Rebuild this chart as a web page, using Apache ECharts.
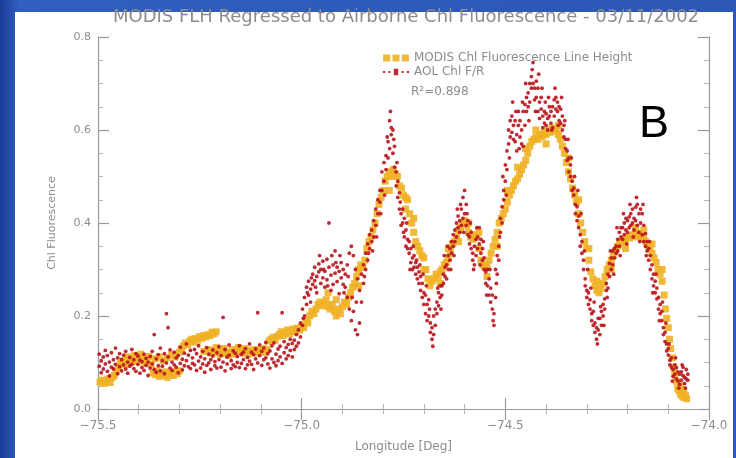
<!DOCTYPE html>
<html>
<head>
<meta charset="utf-8">
<script src="https://cdn.jsdelivr.net/npm/echarts@6/dist/echarts.min.js"></script>
<style>
  html, body { margin: 0; padding: 0; }
  #chart { width: 736px; height: 458px; }
</style>
</head>
<body>
<div id="chart"></div>
<script>
// Longitude range and tick layout
const lonTicks = [-75.5, -75.0, -74.5, -74.0];
const chlTicks = [0.0, 0.2, 0.4, 0.6, 0.8];

// MODIS fluorescence line height, regressed to Chl fluorescence: [longitude, value]
const modisFlh = [
  [-75.495,0.058],[-75.490,0.062],[-75.485,0.055],[-75.480,0.060],[-75.475,0.065],[-75.470,0.057],
  [-75.465,0.068],[-75.460,0.072],[-75.455,0.080],[-75.450,0.090],[-75.445,0.098],[-75.440,0.104],
  [-75.435,0.095],[-75.430,0.108],[-75.425,0.112],[-75.420,0.100],[-75.415,0.106],[-75.410,0.115],
  [-75.405,0.102],[-75.400,0.110],[-75.395,0.118],[-75.390,0.104],[-75.385,0.099],[-75.380,0.108],
  [-75.375,0.113],[-75.370,0.096],[-75.365,0.078],[-75.360,0.074],[-75.355,0.082],[-75.350,0.070],
  [-75.345,0.076],[-75.340,0.072],[-75.335,0.080],[-75.330,0.068],[-75.325,0.075],[-75.320,0.078],
  [-75.315,0.072],[-75.310,0.080],[-75.305,0.076],[-75.300,0.082],
  [-75.360,0.108],[-75.350,0.112],[-75.340,0.104],[-75.330,0.110],[-75.320,0.116],[-75.310,0.112],
  [-75.300,0.122],[-75.295,0.130],[-75.290,0.136],[-75.285,0.142],[-75.280,0.138],[-75.275,0.146],
  [-75.270,0.150],[-75.265,0.144],[-75.260,0.152],[-75.255,0.148],[-75.250,0.156],[-75.245,0.152],
  [-75.240,0.158],[-75.235,0.155],[-75.230,0.160],[-75.225,0.158],[-75.220,0.165],[-75.215,0.162],
  [-75.210,0.166],[-75.240,0.124],[-75.230,0.128],[-75.220,0.120],[-75.215,0.126],[-75.210,0.132],
  [-75.205,0.122],[-75.200,0.118],[-75.195,0.125],[-75.190,0.130],[-75.185,0.120],[-75.180,0.115],
  [-75.175,0.122],[-75.170,0.128],[-75.165,0.118],[-75.160,0.124],[-75.155,0.132],[-75.150,0.126],
  [-75.145,0.120],[-75.140,0.130],[-75.135,0.124],[-75.130,0.118],[-75.125,0.126],[-75.120,0.122],
  [-75.115,0.128],[-75.110,0.120],[-75.105,0.126],[-75.100,0.124],[-75.095,0.130],[-75.090,0.122],
  [-75.085,0.128],[-75.080,0.146],[-75.075,0.150],[-75.070,0.154],[-75.065,0.148],[-75.060,0.156],
  [-75.055,0.160],[-75.050,0.166],[-75.045,0.158],[-75.040,0.165],[-75.035,0.170],[-75.030,0.162],
  [-75.025,0.168],[-75.020,0.172],[-75.015,0.166],[-75.010,0.174],[-75.005,0.170],[-75.000,0.176],
  [-74.995,0.175],[-74.990,0.190],[-74.985,0.185],[-74.980,0.200],[-74.975,0.210],[-74.970,0.205],
  [-74.965,0.215],[-74.960,0.225],[-74.955,0.230],[-74.950,0.222],[-74.945,0.228],[-74.940,0.235],
  [-74.935,0.220],[-74.930,0.215],[-74.925,0.225],[-74.920,0.210],[-74.915,0.200],[-74.910,0.215],
  [-74.905,0.205],[-74.900,0.220],[-74.895,0.230],[-74.890,0.225],[-74.885,0.240],[-74.880,0.250],
  [-74.875,0.262],[-74.870,0.270],[-74.865,0.285],[-74.860,0.300],[-74.855,0.310],[-74.850,0.305],
  [-74.845,0.320],[-74.840,0.345],[-74.835,0.360],[-74.830,0.370],[-74.825,0.385],[-74.820,0.400],
  [-74.815,0.420],[-74.810,0.440],[-74.805,0.455],[-74.800,0.470],[-74.795,0.490],[-74.790,0.500],
  [-74.785,0.510],[-74.780,0.500],[-74.775,0.515],[-74.770,0.505],[-74.765,0.500],[-74.760,0.480],
  [-74.755,0.475],[-74.750,0.460],[-74.745,0.455],[-74.740,0.450],[-74.735,0.420],[-74.730,0.400],
  [-74.725,0.380],[-74.720,0.360],[-74.715,0.350],[-74.710,0.340],[-74.705,0.330],[-74.700,0.325],
  [-74.695,0.300],[-74.690,0.280],[-74.685,0.265],[-74.680,0.275],[-74.675,0.280],[-74.670,0.290],
  [-74.665,0.285],[-74.660,0.295],[-74.655,0.300],[-74.650,0.310],[-74.645,0.315],[-74.640,0.325],
  [-74.635,0.340],[-74.630,0.355],[-74.625,0.360],[-74.620,0.370],[-74.615,0.385],[-74.610,0.390],
  [-74.605,0.400],[-74.600,0.405],[-74.595,0.395],[-74.590,0.380],[-74.585,0.370],[-74.580,0.365],
  [-74.575,0.375],[-74.570,0.370],[-74.565,0.345],[-74.560,0.320],[-74.555,0.310],[-74.550,0.305],
  [-74.545,0.310],[-74.540,0.320],[-74.535,0.335],[-74.530,0.350],[-74.525,0.365],[-74.520,0.380],
  [-74.515,0.400],[-74.510,0.410],[-74.505,0.420],[-74.500,0.430],[-74.495,0.445],[-74.490,0.460],
  [-74.485,0.470],[-74.480,0.480],[-74.475,0.490],[-74.470,0.495],[-74.465,0.505],[-74.460,0.515],
  [-74.455,0.525],[-74.450,0.535],[-74.445,0.550],[-74.440,0.565],[-74.435,0.575],[-74.430,0.580],
  [-74.425,0.585],[-74.420,0.580],[-74.415,0.590],[-74.410,0.585],[-74.405,0.595],[-74.400,0.590],
  [-74.395,0.600],[-74.390,0.595],[-74.385,0.605],[-74.380,0.600],[-74.375,0.598],[-74.370,0.590],
  [-74.365,0.580],[-74.360,0.565],[-74.355,0.550],[-74.350,0.530],[-74.345,0.510],[-74.340,0.495],
  [-74.335,0.475],[-74.330,0.460],[-74.325,0.445],[-74.320,0.420],[-74.315,0.400],[-74.310,0.380],
  [-74.305,0.360],[-74.300,0.345],[-74.295,0.320],[-74.290,0.295],[-74.285,0.280],[-74.280,0.265],
  [-74.275,0.255],[-74.270,0.250],[-74.265,0.260],[-74.260,0.270],[-74.255,0.285],[-74.250,0.300],
  [-74.245,0.310],[-74.240,0.320],[-74.235,0.330],[-74.230,0.340],[-74.225,0.350],[-74.220,0.355],
  [-74.215,0.360],[-74.210,0.362],[-74.205,0.365],[-74.200,0.370],[-74.195,0.368],[-74.190,0.372],
  [-74.185,0.375],[-74.180,0.370],[-74.175,0.378],[-74.170,0.372],[-74.165,0.368],[-74.160,0.365],
  [-74.155,0.360],[-74.150,0.352],[-74.145,0.345],[-74.140,0.335],[-74.135,0.325],[-74.130,0.315],
  [-74.125,0.300],[-74.120,0.290],[-74.115,0.275],[-74.110,0.245],[-74.107,0.215],[-74.104,0.195],
  [-74.100,0.175],[-74.097,0.150],[-74.094,0.130],[-74.090,0.110],[-74.087,0.090],[-74.084,0.075],
  [-74.080,0.060],[-74.077,0.045],[-74.074,0.040],[-74.070,0.032],[-74.066,0.028],[-74.062,0.025],
  [-74.058,0.030],[-74.055,0.022],
  // off-track pixels
  [-74.935,0.250],[-74.915,0.235],[-74.860,0.265],[-74.785,0.470],[-74.745,0.430],[-74.725,0.410],
  [-74.700,0.300],[-74.660,0.270],[-74.640,0.345],[-74.615,0.360],[-74.590,0.400],[-74.565,0.380],
  [-74.545,0.285],[-74.520,0.350],[-74.495,0.470],[-74.470,0.520],[-74.450,0.560],[-74.425,0.600],
  [-74.400,0.570],[-74.370,0.610],[-74.345,0.540],[-74.320,0.450],[-74.295,0.345],[-74.275,0.275],
  [-74.240,0.300],[-74.205,0.345],[-74.180,0.390],[-74.160,0.385],[-74.140,0.355],[-74.115,0.300],
  [-74.070,0.050],[-74.062,0.040]
];

// AOL airborne Chl F/R: each row is a longitude followed by the readings taken there
const aolRows = [
  [-75.497,0.092,0.118],[-75.492,0.078,0.104],[-75.487,0.112,0.086],[-75.482,0.097,0.126],
  [-75.477,0.081,0.115],[-75.472,0.101,0.071],[-75.467,0.121,0.090],[-75.462,0.086,0.106],
  [-75.457,0.096,0.131],[-75.452,0.076,0.110],[-75.447,0.091,0.119],[-75.442,0.106,0.082],
  [-75.437,0.116,0.095],[-75.432,0.086,0.124],[-75.427,0.101,0.077],[-75.422,0.111,0.092],
  [-75.417,0.128,0.096],[-75.412,0.087,0.106],[-75.407,0.119,0.081],[-75.402,0.096,0.114],
  [-75.397,0.077,0.105],[-75.392,0.102,0.089],[-75.387,0.118,0.083],[-75.382,0.094,0.109],
  [-75.377,0.072,0.101],[-75.372,0.113,0.088],[-75.367,0.097,0.124],[-75.362,0.160,0.085],
  [-75.357,0.108,0.079],[-75.352,0.093,0.117],[-75.347,0.082,0.131],[-75.342,0.104,0.092],
  [-75.337,0.119,0.076],[-75.332,0.205,0.099],[-75.328,0.175,0.112],[-75.323,0.088,0.127],
  [-75.318,0.101,0.083],[-75.313,0.122,0.095],[-75.308,0.090,0.110],[-75.303,0.115,0.078],
  [-75.298,0.098,0.133],[-75.293,0.084,0.107],[-75.288,0.120,0.093],[-75.283,0.104,0.140],
  [-75.278,0.091,0.116],[-75.273,0.126,0.087],[-75.268,0.110,0.098],[-75.263,0.095,0.128],
  [-75.258,0.119,0.083],[-75.253,0.103,0.136],[-75.248,0.088,0.112],[-75.243,0.124,0.097],
  [-75.238,0.108,0.079],[-75.233,0.132,0.094],[-75.228,0.099,0.118],[-75.223,0.085,0.106],
  [-75.218,0.114,0.127],[-75.213,0.093,0.102],[-75.208,0.121,0.088],[-75.203,0.106,0.134],
  [-75.198,0.090,0.115],[-75.193,0.197,0.101],[-75.188,0.128,0.082],[-75.183,0.097,0.112],
  [-75.178,0.116,0.138],[-75.173,0.104,0.087],[-75.168,0.125,0.095],[-75.163,0.091,0.120],
  [-75.158,0.113,0.100],[-75.153,0.136,0.089],[-75.148,0.098,0.118],[-75.143,0.122,0.106],
  [-75.138,0.087,0.130],[-75.133,0.111,0.095],[-75.128,0.140,0.103],[-75.123,0.096,0.122],
  [-75.118,0.117,0.085],[-75.113,0.129,0.108],[-75.108,0.207,0.099],[-75.103,0.115,0.138],
  [-75.098,0.094,0.124],[-75.093,0.131,0.106],[-75.088,0.110,0.143],[-75.083,0.097,0.119],
  [-75.078,0.125,0.088],[-75.073,0.108,0.136],[-75.068,0.142,0.100],[-75.063,0.118,0.093],
  [-75.058,0.104,0.129],[-75.053,0.135,0.112],[-75.048,0.207,0.098],[-75.043,0.121,0.145],
  [-75.038,0.108,0.132],[-75.033,0.139,0.115],[-75.028,0.126,0.150],[-75.023,0.112,0.141],
  [-75.018,0.148,0.128],[-75.013,0.135,0.160],[-75.008,0.170,0.142],[-75.003,0.155,0.185],
  [-74.998,0.215,0.180],[-74.993,0.240,0.200],[-74.988,0.225,0.262],[-74.983,0.275,0.245],
  [-74.978,0.258,0.230],[-74.973,0.290,0.268],[-74.968,0.305,0.276],[-74.963,0.285,0.250],
  [-74.958,0.312,0.295],[-74.953,0.270,0.300],[-74.948,0.318,0.282],[-74.943,0.296,0.262],
  [-74.938,0.322,0.278],[-74.933,0.400,0.305],[-74.928,0.288,0.255],[-74.923,0.310,0.268],
  [-74.918,0.340,0.292],[-74.913,0.274,0.305],[-74.908,0.296,0.248],[-74.903,0.315,0.282],
  [-74.898,0.268,0.300],[-74.893,0.290,0.262],[-74.888,0.310,0.240],[-74.883,0.335,0.215],
  [-74.878,0.350,0.190],[-74.873,0.330,0.210],[-74.868,0.300,0.170],[-74.863,0.280,0.160],
  [-74.858,0.255,0.185],[-74.853,0.290,0.230],[-74.848,0.310,0.270],[-74.843,0.335,0.300],
  [-74.838,0.355,0.320],[-74.833,0.345,0.375],[-74.828,0.385,0.360],[-74.823,0.405,0.370],
  [-74.818,0.430,0.395],[-74.813,0.450,0.420],[-74.808,0.470,0.445],[-74.803,0.510,0.470],
  [-74.798,0.530,0.490],[-74.793,0.545,0.515],[-74.788,0.575,0.540],[-74.784,0.620,0.560],
  [-74.780,0.590,0.605],[-74.776,0.600,0.550],[-74.772,0.520,0.565],[-74.768,0.480,0.510],
  [-74.764,0.455,0.490],[-74.760,0.430,0.465],[-74.756,0.420,0.395],[-74.752,0.400,0.430],
  [-74.748,0.370,0.410],[-74.744,0.385,0.350],[-74.740,0.345,0.365],[-74.736,0.335,0.360],
  [-74.732,0.315,0.345],[-74.728,0.325,0.300],[-74.724,0.305,0.330],[-74.720,0.290,0.315],
  [-74.716,0.305,0.280],[-74.712,0.270,0.295],[-74.708,0.285,0.255],[-74.704,0.270,0.240],
  [-74.700,0.250,0.225],[-74.696,0.245,0.205],[-74.692,0.225,0.190],[-74.688,0.200,0.235],
  [-74.684,0.185,0.165],[-74.680,0.175,0.150],[-74.676,0.200,0.160],[-74.672,0.215,0.180],
  [-74.668,0.230,0.205],[-74.664,0.250,0.222],[-74.660,0.240,0.265],[-74.656,0.265,0.245],
  [-74.652,0.290,0.270],[-74.648,0.285,0.305],[-74.644,0.310,0.280],[-74.640,0.330,0.300],
  [-74.636,0.345,0.320],[-74.632,0.335,0.360],[-74.628,0.350,0.375],[-74.624,0.385,0.360],
  [-74.620,0.400,0.370],[-74.616,0.390,0.415],[-74.612,0.405,0.380],[-74.608,0.430,0.395],
  [-74.604,0.455,0.410],[-74.600,0.470,0.420],[-74.596,0.440,0.395],[-74.592,0.405,0.375],
  [-74.588,0.370,0.355],[-74.584,0.345,0.380],[-74.580,0.335,0.320],[-74.576,0.350,0.310],
  [-74.572,0.365,0.330],[-74.568,0.370,0.345],[-74.564,0.355,0.390],[-74.560,0.335,0.365],
  [-74.556,0.320,0.345],[-74.552,0.300,0.325],[-74.548,0.295,0.270],[-74.544,0.300,0.265],
  [-74.540,0.245,0.280],[-74.536,0.230,0.260],[-74.532,0.215,0.245],[-74.528,0.180,0.205],
  [-74.524,0.240,0.300],[-74.520,0.290,0.330],[-74.516,0.350,0.320],[-74.512,0.380,0.410],
  [-74.508,0.435,0.400],[-74.504,0.470,0.450],[-74.500,0.525,0.490],[-74.496,0.555,0.515],
  [-74.492,0.600,0.570],[-74.488,0.585,0.620],[-74.484,0.630,0.595],[-74.480,0.610,0.580],
  [-74.476,0.575,0.620],[-74.472,0.590,0.555],[-74.468,0.610,0.640],[-74.464,0.585,0.620],
  [-74.460,0.570,0.600],[-74.456,0.565,0.640],[-74.452,0.655,0.610],[-74.448,0.640,0.670],
  [-74.444,0.680,0.650],[-74.440,0.660,0.700],[-74.436,0.715,0.690],[-74.432,0.745,0.700],
  [-74.428,0.690,0.665],[-74.424,0.670,0.705],[-74.420,0.690,0.640],[-74.416,0.660,0.625],
  [-74.412,0.645,0.670],[-74.408,0.630,0.605],[-74.404,0.640,0.615],[-74.400,0.610,0.635],
  [-74.396,0.625,0.600],[-74.392,0.630,0.650],[-74.388,0.615,0.640],[-74.384,0.650,0.605],
  [-74.380,0.665,0.630],[-74.376,0.670,0.645],[-74.372,0.660,0.640],[-74.368,0.650,0.620],
  [-74.364,0.645,0.615],[-74.360,0.630,0.600],[-74.356,0.610,0.585],[-74.352,0.580,0.560],
  [-74.348,0.555,0.535],[-74.344,0.540,0.510],[-74.340,0.500,0.525],[-74.336,0.490,0.470],
  [-74.332,0.460,0.475],[-74.328,0.440,0.420],[-74.324,0.435,0.405],[-74.320,0.390,0.415],
  [-74.316,0.375,0.350],[-74.312,0.335,0.360],[-74.308,0.300,0.320],[-74.304,0.280,0.265],
  [-74.300,0.255,0.240],[-74.296,0.250,0.225],[-74.292,0.215,0.235],[-74.288,0.205,0.190],
  [-74.284,0.180,0.210],[-74.280,0.165,0.185],[-74.276,0.150,0.175],[-74.272,0.170,0.195],
  [-74.268,0.195,0.160],[-74.264,0.210,0.180],[-74.260,0.225,0.200],[-74.256,0.237,0.215],
  [-74.252,0.255,0.270],[-74.248,0.290,0.260],[-74.244,0.313,0.285],[-74.240,0.325,0.300],
  [-74.236,0.340,0.310],[-74.232,0.345,0.325],[-74.228,0.350,0.335],[-74.224,0.365,0.340],
  [-74.220,0.380,0.350],[-74.216,0.370,0.390],[-74.212,0.390,0.365],[-74.208,0.400,0.375],
  [-74.204,0.385,0.410],[-74.200,0.405,0.380],[-74.196,0.413,0.390],[-74.192,0.395,0.420],
  [-74.188,0.430,0.400],[-74.184,0.385,0.410],[-74.180,0.434,0.405],[-74.176,0.440,0.395],
  [-74.172,0.420,0.380],[-74.168,0.400,0.430],[-74.164,0.420,0.375],[-74.160,0.395,0.360],
  [-74.156,0.377,0.350],[-74.152,0.360,0.340],[-74.148,0.320,0.345],[-74.144,0.300,0.330],
  [-74.140,0.280,0.310],[-74.136,0.265,0.290],[-74.132,0.250,0.275],[-74.128,0.237,0.260],
  [-74.124,0.215,0.240],[-74.120,0.205,0.225],[-74.116,0.190,0.210],[-74.112,0.175,0.160],
  [-74.108,0.165,0.145],[-74.104,0.140,0.125],[-74.100,0.116,0.130],[-74.096,0.105,0.095],
  [-74.092,0.090,0.110],[-74.088,0.085,0.070],[-74.084,0.095,0.075],[-74.080,0.089,0.065],
  [-74.076,0.060,0.080],[-74.072,0.053,0.075],[-74.068,0.080,0.062],[-74.064,0.072,0.090],
  [-74.060,0.068,0.055],[-74.056,0.085,0.065],[-74.052,0.062,0.075],
  // readings between the main passes
  [-74.996,0.195],[-74.986,0.250],[-74.976,0.282],[-74.966,0.262],[-74.956,0.330],[-74.946,0.300],
  [-74.936,0.265],[-74.926,0.330],[-74.916,0.315],[-74.906,0.330],[-74.896,0.250],[-74.886,0.285],
  [-74.876,0.240],[-74.866,0.230],[-74.846,0.285],[-74.836,0.335],[-74.826,0.340],[-74.816,0.370],
  [-74.806,0.420],[-74.796,0.460],[-74.790,0.585],[-74.782,0.640],[-74.774,0.580],[-74.766,0.530],
  [-74.758,0.445],[-74.750,0.380],[-74.742,0.400],[-74.734,0.300],[-74.726,0.350],[-74.718,0.320],
  [-74.710,0.310],[-74.702,0.290],[-74.694,0.265],[-74.686,0.215],[-74.678,0.135],
  [-74.666,0.260],[-74.658,0.215],[-74.650,0.330],[-74.642,0.350],[-74.634,0.300],[-74.626,0.330],
  [-74.618,0.430],[-74.610,0.440],[-74.602,0.380],[-74.594,0.420],[-74.586,0.400],[-74.578,0.300],
  [-74.570,0.390],[-74.562,0.310],[-74.554,0.360],[-74.546,0.245],[-74.538,0.300],[-74.530,0.190],
  [-74.522,0.270],[-74.514,0.370],[-74.506,0.500],[-74.498,0.460],[-74.490,0.540],[-74.482,0.660],
  [-74.474,0.640],[-74.466,0.560],[-74.458,0.660],[-74.450,0.700],[-74.442,0.620],[-74.434,0.730],
  [-74.426,0.640],[-74.418,0.720],[-74.410,0.690],[-74.402,0.660],[-74.394,0.670],[-74.386,0.600],
  [-74.378,0.690],[-74.370,0.610],[-74.362,0.670],[-74.354,0.620],[-74.346,0.580],[-74.338,0.540],
  [-74.330,0.500],[-74.322,0.470],[-74.314,0.420],[-74.306,0.340],[-74.298,0.300],[-74.290,0.260],
  [-74.282,0.230],[-74.274,0.140],[-74.266,0.220],[-74.258,0.180],[-74.250,0.240],
  [-74.242,0.340],[-74.234,0.290],[-74.226,0.390],[-74.218,0.330],[-74.210,0.420],[-74.202,0.355],
  [-74.194,0.440],[-74.186,0.370],[-74.178,0.455],[-74.170,0.360],[-74.162,0.440],[-74.154,0.330],
  [-74.146,0.360],[-74.138,0.250],[-74.130,0.290],[-74.122,0.190],[-74.114,0.230],[-74.106,0.185],
  [-74.098,0.140],[-74.090,0.060],[-74.082,0.110],[-74.074,0.045],[-74.066,0.095],[-74.058,0.045]
];

const seriesNames = ['MODIS Chl Fluorescence Line Height', 'AOL Chl F/R'];
const titleText = 'MODIS FLH Regressed to Airborne Chl Fluorescence - 03/11/2002';
const fitText = 'R\u00B2=0.898';

// Flatten AOL rows into [lon, value] points
const aolPoints = [];
aolRows.forEach(function (row) {
  for (let i = 1; i < row.length; i++) aolPoints.push([row[0], row[i]]);
});

const GRAY = '#8c8c8c';
const AXIS = '#9a9a9a';
const FONT = 'DejaVu Sans';

function fmt(v) { return v.toFixed(1).replace('-', '\u2212'); }

function axisCommon(extra) {
  return Object.assign({
    type: 'value',
    axisLine: { show: true, lineStyle: { color: AXIS, width: 1.2 } },
    axisTick: { show: true, inside: true, length: 11, lineStyle: { color: AXIS, width: 1.2 } },
    splitLine: { show: false },
    minorSplitLine: { show: false }
  }, extra);
}

const chart = echarts.init(document.getElementById('chart'), null, { renderer: 'canvas' });

chart.setOption({
  backgroundColor: {
    type: 'linear', x: 0, y: 0, x2: 1, y2: 0,
    colorStops: [
      { offset: 0, color: '#1b3a92' },
      { offset: 0.025, color: '#2f5fc0' },
      { offset: 1, color: '#2b57b6' }
    ]
  },
  animation: false,
  grid: { left: 98, right: 27, top: 37, bottom: 43, containLabel: false },
  graphic: [
    { type: 'rect', z: -10, shape: { x: 15, y: 12, width: 718, height: 446 }, style: { fill: '#ffffff' } },
    { type: 'text', z: 10, x: 406, y: 8,
      style: { text: titleText, fill: GRAY, font: '18px "DejaVu Sans"', textAlign: 'center' } },
    { type: 'text', z: 10, x: 411, y: 86,
      style: { text: fitText, fill: GRAY, font: '12px "DejaVu Sans"' } },
    { type: 'text', z: 10, x: 639, y: 102,
      style: { text: 'B', fill: '#000000', font: '45px "Liberation Sans"' } }
  ],
  legend: {
    orient: 'vertical',
    left: 378, top: 47,
    itemGap: 2,
    itemWidth: 26, itemHeight: 7,
    textStyle: { color: GRAY, fontSize: 12, fontFamily: FONT },
    data: [
      { name: seriesNames[0], icon: 'path://M0,0h6v6h-6zM8,0h6v6h-6zM16,0h6v6h-6z' },
      { name: seriesNames[1], icon: 'path://M0,2h2v2h-2zM5,2h2v2h-2zM10,0h4v6h-4zM17,2h2v2h-2zM22,2h2v2h-2z' }
    ]
  },
  xAxis: [
    axisCommon({
      min: -75.5, max: -74.0, interval: 0.5, position: 'bottom',
      minorTick: { show: true, splitNumber: 5, length: 5, lineStyle: { color: '#b5b5b5' } },
      axisLabel: { color: GRAY, fontSize: 12, fontFamily: FONT, margin: 11, formatter: fmt },
      name: 'Longitude [Deg]', nameLocation: 'middle', nameGap: 32,
      nameTextStyle: { color: GRAY, fontSize: 12, fontFamily: FONT }
    }),
    axisCommon({
      min: -75.5, max: -74.0, interval: 0.5, position: 'top',
      minorTick: { show: true, splitNumber: 5, length: 5, lineStyle: { color: '#b5b5b5' } },
      axisLabel: { show: false }
    })
  ],
  yAxis: [
    axisCommon({
      min: 0, max: 0.8, interval: 0.2, position: 'left',
      minorTick: { show: true, splitNumber: 4, length: 5, lineStyle: { color: '#b5b5b5' } },
      axisLabel: { color: GRAY, fontSize: 11, fontFamily: FONT, margin: 7, formatter: fmt },
      name: 'Chl Fluorescence', nameLocation: 'middle', nameGap: 40,
      nameTextStyle: { color: GRAY, fontSize: 11, fontFamily: FONT }
    }),
    axisCommon({
      min: 0, max: 0.8, interval: 0.2, position: 'right',
      minorTick: { show: true, splitNumber: 4, length: 5, lineStyle: { color: '#b5b5b5' } },
      axisLabel: { show: false }
    })
  ],
  series: [
    {
      name: seriesNames[0],
      type: 'scatter',
      xAxisIndex: 0, yAxisIndex: 0,
      symbol: 'rect',
      symbolSize: 7,
      itemStyle: { color: '#f0b125', opacity: 0.9 },
      data: modisFlh
    },
    {
      name: seriesNames[1],
      type: 'scatter',
      xAxisIndex: 0, yAxisIndex: 0,
      symbol: 'circle',
      symbolSize: 3.8,
      itemStyle: { color: '#b8141c', opacity: 0.9 },
      data: aolPoints
    }
  ]
});
</script>
</body>
</html>
